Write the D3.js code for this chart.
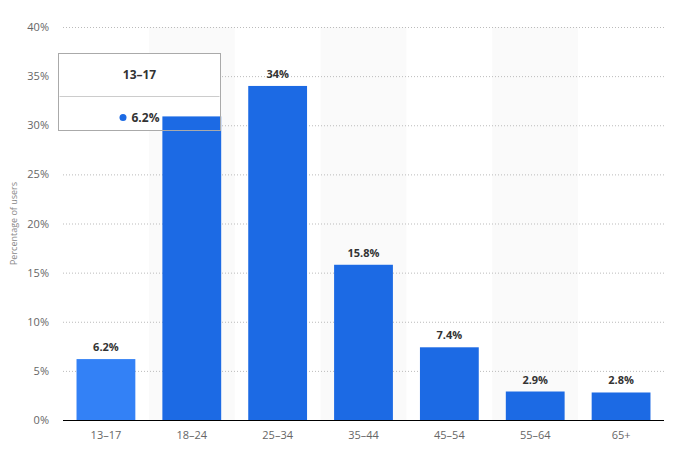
<!DOCTYPE html>
<html><head><meta charset="utf-8">
<script src="https://cdn.jsdelivr.net/npm/d3@7"></script>
<style>body{margin:0;background:#fff;font-family:"Open Sans","DejaVu Sans",sans-serif;}</style>
</head><body><svg id="c" width="691" height="459"></svg>
<script>
const categories = ["13–17","18–24","25–34","35–44","45–54","55–64","65+"];
const values = [6.2, 30.9, 34, 15.8, 7.4, 2.9, 2.8];
const valueLabels = ["6.2%","30.9%","34%","15.8%","7.4%","2.9%","2.8%"];
const yTicks = [0,5,10,15,20,25,30,35,40];
const hoveredIndex = 0;

const svg = d3.select("#c");
const m = {l:63, r:27, t:27, b:39};
const W = 691, H = 459;
const x = d3.scaleBand().domain(categories).range([m.l, W-m.r]).paddingInner(0).paddingOuter(0);
const y = d3.scaleLinear().domain([0,40]).range([H-m.b, m.t]);
const bw = x.bandwidth();
const barW = bw*0.685;

// alternating band shading
svg.append("g").selectAll("rect").data(categories.filter((d,i)=>i%2===1)).join("rect")
  .attr("x", d=>x(d)).attr("y", y(40)).attr("width", bw).attr("height", y(0)-y(40))
  .attr("fill","#fafafa");

// gridlines
const yAxis = d3.axisLeft(y).tickValues(yTicks).tickFormat(d=>d+"%").tickSize(0).tickPadding(14);
const gy = svg.append("g").attr("transform",`translate(${m.l},0)`).call(yAxis);
gy.select(".domain").remove();
gy.selectAll("text").attr("fill","#666").style("font-size","11px").style("font-family","'Open Sans','DejaVu Sans',sans-serif");
svg.append("g").selectAll("line").data(yTicks.filter(d=>d>0)).join("line")
  .attr("x1", m.l).attr("x2", W-m.r).attr("y1", d=>y(d)+0.5).attr("y2", d=>y(d)+0.5)
  .attr("stroke","#bbb").attr("stroke-width",1).attr("stroke-dasharray","1,2");

function drawBars(g){
  g.selectAll("rect").data(values).join("rect")
    .attr("x",(d,i)=>x(categories[i])+(bw-barW)/2).attr("y",d=>y(d))
    .attr("width",barW).attr("height",d=>y(0)-y(d))
    .attr("fill",(d,i)=>i===hoveredIndex?"#3381f6":"#1c6ae4");
}
drawBars(svg.append("g"));

// value labels
svg.append("g").selectAll("text").data(values).join("text")
  .attr("x",(d,i)=>x(categories[i])+bw/2).attr("y",d=>y(d)-8)
  .attr("text-anchor","middle").attr("fill","#333").style("font-size","11px").style("font-weight","bold")
  .text((d,i)=>valueLabels[i]);

// baseline
svg.append("line").attr("x1",m.l).attr("x2",W-m.r).attr("y1",y(0)+0.5).attr("y2",y(0)+0.5).attr("stroke","#000").attr("stroke-width",1.2);

// x axis
const xAxis = d3.axisBottom(x).tickSize(0).tickPadding(11);
const gx = svg.append("g").attr("transform",`translate(0,${y(0)})`).call(xAxis);
gx.select(".domain").remove();
gx.selectAll("text").attr("fill","#666").style("font-size","11px").style("font-family","'Open Sans','DejaVu Sans',sans-serif");

// y axis title
svg.append("text").attr("transform",`translate(17,${(y(0)+y(40))/2}) rotate(-90)`)
  .attr("text-anchor","middle").attr("fill","#888").style("font-size","9px").text("Percentage of users");

// tooltip
const tip = svg.append("g").attr("transform","translate(58.5,53.5)");
tip.append("rect").attr("width",162).attr("height",77).attr("fill","#fff");
// bars show through the tooltip
const clip = svg.append("clipPath").attr("id","tipclip");
clip.append("rect").attr("x",58.5).attr("y",53.5).attr("width",162).attr("height",77);
drawBars(svg.append("g").attr("clip-path","url(#tipclip)"));
const tip2 = svg.append("g").attr("transform","translate(58.5,53.5)");
tip2.append("rect").attr("width",162).attr("height",77).attr("fill","none").attr("stroke","#aaa").attr("stroke-width",1);
tip2.append("line").attr("x1",1).attr("x2",161).attr("y1",43).attr("y2",43).attr("stroke","#ccc");
tip2.append("text").attr("x",81).attr("y",25).attr("text-anchor","middle").attr("fill","#333")
  .style("font-size","12px").style("font-weight","bold").text(categories[hoveredIndex]);
tip2.append("circle").attr("cx",64.5).attr("cy",64).attr("r",3.5).attr("fill","#1c6ae4");
tip2.append("text").attr("x",73).attr("y",68.5).attr("fill","#333")
  .style("font-size","12px").style("font-weight","bold").text(valueLabels[hoveredIndex]);
</script></body></html>
